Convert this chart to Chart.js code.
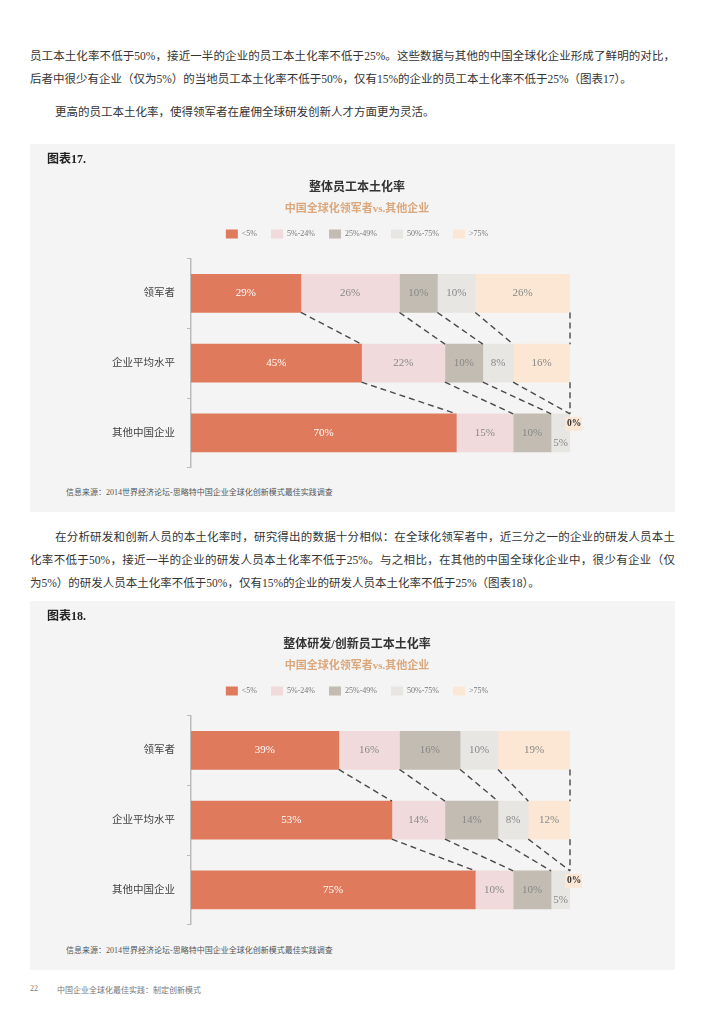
<!DOCTYPE html>
<html>
<head>
<meta charset="utf-8">
<script src="https://cdn.jsdelivr.net/npm/chart.js@4.4.1/dist/chart.umd.min.js"></script>
<style>
  body { margin: 0; background: #fff; width: 724px; height: 1024px; position: relative; overflow: hidden;
         font-family: 'Liberation Serif', 'Noto Sans CJK SC', serif; color: #333; }
  .txt { position: absolute; left: 30px; width: 645px; font-size: 11.5px; line-height: 23px; color: #333; }
  .txt span { display: block; text-align: justify; text-align-last: justify; }
  .txt span.last { text-align-last: left; }
  .txt span.indent { text-indent: 25px; }
  .panel { position: absolute; left: 30px; width: 645px; background: #f4f4f4; }
  .panel canvas { position: absolute; left: 0; top: 0; }
  .fig { position: absolute; left: 17px; top: 5px; font-size: 12px; font-weight: bold; color: #222; }
  .src { position: absolute; left: 36px; font-size: 8px; color: #555; }
  .foot { position: absolute; top: 984px; font-size: 8px; color: #777; }
</style>
</head>
<body>

<div class="txt" style="top:45px">
  <span>员工本土化率不低于50%，接近一半的企业的员工本土化率不低于25%。这些数据与其他的中国全球化企业形成了鲜明的对比，</span>
  <span class="last">后者中很少有企业（仅为5%）的当地员工本土化率不低于50%，仅有15%的企业的员工本土化率不低于25%（图表17）。</span>
</div>
<div class="txt" style="top:101px">
  <span class="last indent">更高的员工本土化率，使得领军者在雇佣全球研发创新人才方面更为灵活。</span>
</div>

<div class="panel" style="top:144px;height:368px">
  <canvas id="fig17" width="645" height="342"></canvas>
  <div class="fig">图表17.</div>
  <div class="src" style="top:342px">信息来源：2014世界经济论坛-思略特中国企业全球化创新模式最佳实践调查</div>
</div>

<div class="txt" style="top:526px">
  <span class="indent">在分析研发和创新人员的本土化率时，研究得出的数据十分相似：在全球化领军者中，近三分之一的企业的研发人员本土</span>
  <span>化率不低于50%，接近一半的企业的研发人员本土化率不低于25%。与之相比，在其他的中国全球化企业中，很少有企业（仅</span>
  <span class="last">为5%）的研发人员本土化率不低于50%，仅有15%的企业的研发人员本土化率不低于25%（图表18）。</span>
</div>

<div class="panel" style="top:601px;height:369px">
  <canvas id="fig18" width="645" height="342"></canvas>
  <div class="fig">图表18.</div>
  <div class="src" style="top:343px">信息来源：2014世界经济论坛-思略特中国企业全球化创新模式最佳实践调查</div>
</div>

<div class="foot" style="left:30px">22</div>
<div class="foot" style="left:57px">中国企业全球化最佳实践：制定创新模式</div>

<script>
// 数据
const rowLabels = ['领军者', '企业平均水平', '其他中国企业'];
const bandLabels = ['<5%', '5%-24%', '25%-49%', '50%-75%', '>75%'];

// 图表17 整体员工本土化率
const fig17Under5 = [29, 45, 70];
const fig17From5 = [26, 22, 15];
const fig17From25 = [10, 10, 10];
const fig17From50 = [10, 8, 5];
const fig17Over75 = [26, 16, 0];

// 图表18 整体研发/创新员工本土化率
const fig18Under5 = [39, 53, 75];
const fig18From5 = [16, 14, 10];
const fig18From25 = [16, 14, 10];
const fig18From50 = [10, 8, 5];
const fig18Over75 = [19, 12, 0];

const bandColors = ['#e07a5c', '#f0dadb', '#c2bcb2', '#e8e6e3', '#fbe7d3'];
const fontFamily = "'Liberation Serif', 'Noto Sans CJK SC', serif";

// 图例下方留白
const legendGapPlugin = {
  id: 'legendGap',
  beforeInit(chart) {
    const fit = chart.legend.fit;
    chart.legend.fit = function () {
      fit.bind(chart.legend)();
      this.height += 10;
    };
  }
};

// 虚线连接各行的分段终点
const connectorPlugin = {
  id: 'connectors',
  afterDatasetsDraw(chart) {
    const ctx = chart.ctx;
    const xScale = chart.scales.x;
    const metas = chart.data.datasets.map((d, i) => chart.getDatasetMeta(i));
    const rows = chart.data.labels.length;
    ctx.save();
    ctx.strokeStyle = '#4a4a4a';
    ctx.lineWidth = 1.4;
    ctx.setLineDash([6, 4]);
    for (let r = 0; r < rows - 1; r++) {
      let sumA = 0, sumB = 0;
      chart.data.datasets.forEach((ds, j) => {
        sumA += ds.data[r];
        sumB += ds.data[r + 1];
        const barA = metas[j].data[r];
        const barB = metas[j].data[r + 1];
        const x1 = xScale.getPixelForValue(Math.min(sumA, 100));
        const x2 = xScale.getPixelForValue(Math.min(sumB, 100));
        ctx.beginPath();
        ctx.moveTo(x1, barA.y + barA.height / 2);
        ctx.lineTo(x2, barB.y - barB.height / 2);
        ctx.stroke();
      });
    }
    ctx.restore();
  }
};

// 分段数值标签
const valueLabelPlugin = {
  id: 'valueLabels',
  afterDatasetsDraw(chart) {
    const ctx = chart.ctx;
    const right = chart.chartArea.right;
    ctx.save();
    ctx.textAlign = 'center';
    ctx.textBaseline = 'middle';
    chart.data.datasets.forEach((ds, j) => {
      chart.getDatasetMeta(j).data.forEach((bar, i) => {
        const v = ds.data[i];
        const x0 = Math.min(bar.base, right);
        const x1 = Math.min(bar.x, right);
        let cx = (x0 + x1) / 2;
        let cy = bar.y;
        if (v === 0) {
          cx = right + 4;
          cy = bar.y - 9;
          ctx.fillStyle = ds.backgroundColor;
          ctx.fillRect(cx - 9, cy - 7, 17, 14);
          ctx.fillStyle = '#333';
          ctx.font = 'bold 9.5px ' + fontFamily;
        } else {
          if (v < 6) cy = bar.y + 10;
          ctx.fillStyle = j === 0 ? '#fff' : '#888';
          ctx.font = '11px ' + fontFamily;
        }
        ctx.fillText(v + '%', cx, cy);
      });
    });
    ctx.restore();
  }
};

function makeChart(canvasId, title, series) {
  const ctx = document.getElementById(canvasId).getContext('2d');
  return new Chart(ctx, {
    type: 'bar',
    data: {
      labels: rowLabels,
      datasets: series.map((values, j) => ({
        label: bandLabels[j],
        data: values,
        backgroundColor: bandColors[j],
        barThickness: 38,
      })),
    },
    options: {
      indexAxis: 'y',
      responsive: false,
      animation: false,
      layout: { padding: { left: 9, right: 0, top: 0, bottom: 6 } },
      scales: {
        x: { stacked: true, display: false, min: 0, max: 100 },
        y: {
          stacked: true,
          afterFit: (scale) => { scale.width = 152; },
          border: { color: '#bbb', width: 1.5 },
          grid: { drawOnChartArea: false, color: '#bbb', tickLength: 4, offset: true },
          ticks: { color: '#444', padding: 12, font: { family: fontFamily, size: 10.5 } },
        },
        // 右侧留白
        yRight: {
          type: 'category',
          position: 'right',
          afterFit: (scale) => { scale.width = 105; },
          border: { display: false },
          grid: { display: false },
          ticks: { display: false },
        },
      },
      plugins: {
        title: {
          display: true,
          text: title,
          color: '#333',
          font: { family: fontFamily, size: 12, weight: 'bold' },
          padding: { top: 37, bottom: 4 },
        },
        subtitle: {
          display: true,
          text: '中国全球化领军者vs.其他企业',
          color: '#dba77c',
          font: { family: fontFamily, size: 11, weight: 'bold' },
          padding: { top: 3, bottom: 0 },
        },
        legend: {
          display: true,
          labels: {
            boxWidth: 12,
            boxHeight: 9,
            padding: 14,
            color: '#777',
            font: { family: fontFamily, size: 8 },
          },
        },
        tooltip: { enabled: false },
      },
    },
    plugins: [legendGapPlugin, connectorPlugin, valueLabelPlugin],
  });
}

document.addEventListener('DOMContentLoaded', () => {
  makeChart('fig17', '整体员工本土化率',
    [fig17Under5, fig17From5, fig17From25, fig17From50, fig17Over75]);
  makeChart('fig18', '整体研发/创新员工本土化率',
    [fig18Under5, fig18From5, fig18From25, fig18From50, fig18Over75]);
});
</script>
</body>
</html>
